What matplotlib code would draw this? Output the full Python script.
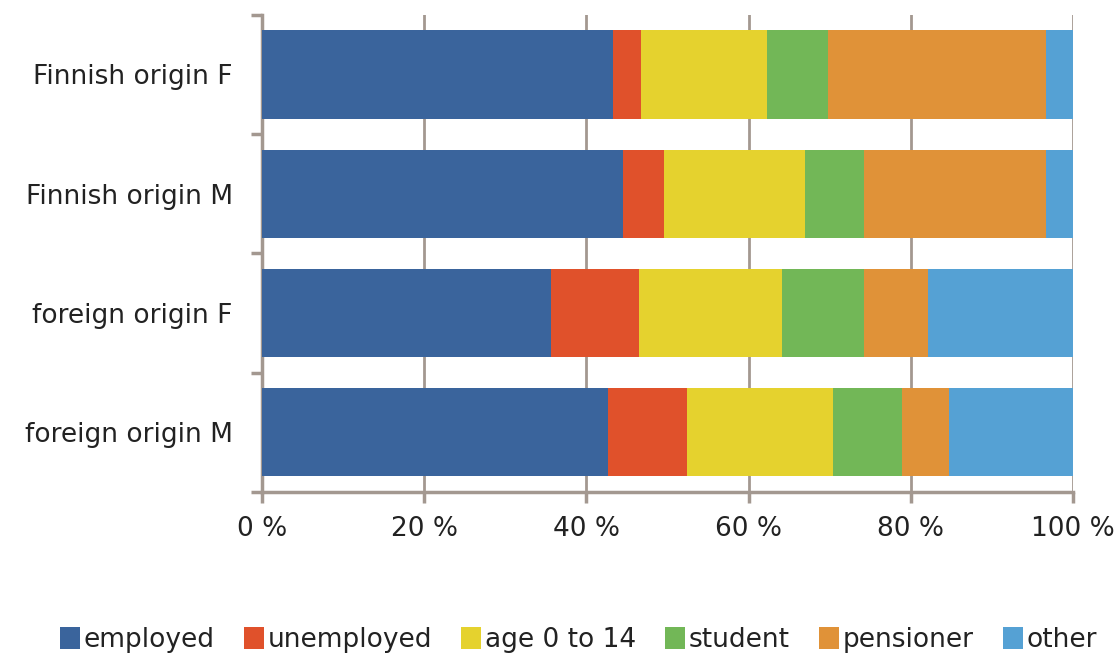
import matplotlib
matplotlib.use("Agg")
import matplotlib.pyplot as plt
import numpy as np

categories = ["Finnish origin F", "Finnish origin M", "foreign origin F", "foreign origin M"]
series_names = ["employed", "unemployed", "age 0 to 14", "student", "pensioner", "other"]
employed   = [43.3, 44.5, 35.6, 42.7]
unemployed = [3.4, 5.1, 10.9, 9.7]
age_0_14   = [15.6, 17.4, 17.6, 18.0]
student    = [7.5, 7.2, 10.1, 8.5]
pensioner  = [26.9, 22.5, 7.9, 5.8]
other      = [3.3, 3.3, 17.9, 15.3]
x_ticks = [0, 20, 40, 60, 80, 100]
x_tick_labels = ["0 %", "20 %", "40 %", "60 %", "80 %", "100 %"]

colors = ["#3A649C", "#E0512B", "#E5D22E", "#72B757", "#E09238", "#55A1D4"]
grid_col = "#A39890"

plt.rcParams['font.family'] = ['DejaVu Sans']

fig = plt.figure(figsize=(11.17, 6.57), dpi=100)
ax = fig.add_axes([262/1117, 1 - 492/657, (1073-262)/1117, (492-14.7)/657])

data = [employed, unemployed, age_0_14, student, pensioner, other]
y = np.arange(len(categories))
left = np.zeros(len(categories))
for vals, name, c in zip(data, series_names, colors):
    ax.barh(y, vals, left=left, height=0.74, color=c, label=name, zorder=3)
    left += np.array(vals)

ax.set_xlim(0, 100)
ax.set_ylim(len(categories) - 0.5, -0.5)
ax.set_xticks(x_ticks)
ax.set_xticklabels(x_tick_labels)
ax.set_yticks(y)
ax.set_yticklabels(categories)
ax.set_yticks(np.arange(-0.5, len(categories) + 0.5, 1), minor=True)

ax.xaxis.grid(True, color=grid_col, linewidth=2, zorder=0)
for s in ["top", "right"]:
    ax.spines[s].set_visible(False)
for s in ["left", "bottom"]:
    ax.spines[s].set_color(grid_col)
    ax.spines[s].set_linewidth(2.5)

ax.tick_params(axis="y", which="major", length=0, pad=21, labelsize=19, labelcolor="#222222")
ax.tick_params(axis="y", which="minor", length=8, width=2.5, color=grid_col)
ax.tick_params(axis="x", which="major", length=8, width=2.5, color=grid_col, pad=9, labelsize=19, labelcolor="#222222")

handles, labels = ax.get_legend_handles_labels()
fig.legend(handles, labels, loc="center", bbox_to_anchor=(0.518, 1 - 640/657), ncol=6,
           frameon=False, fontsize=19, handlelength=0.75, handleheight=0.9,
           handletextpad=0.15, columnspacing=1.1, labelcolor="#222222")

fig.savefig("out.png", dpi=100)
